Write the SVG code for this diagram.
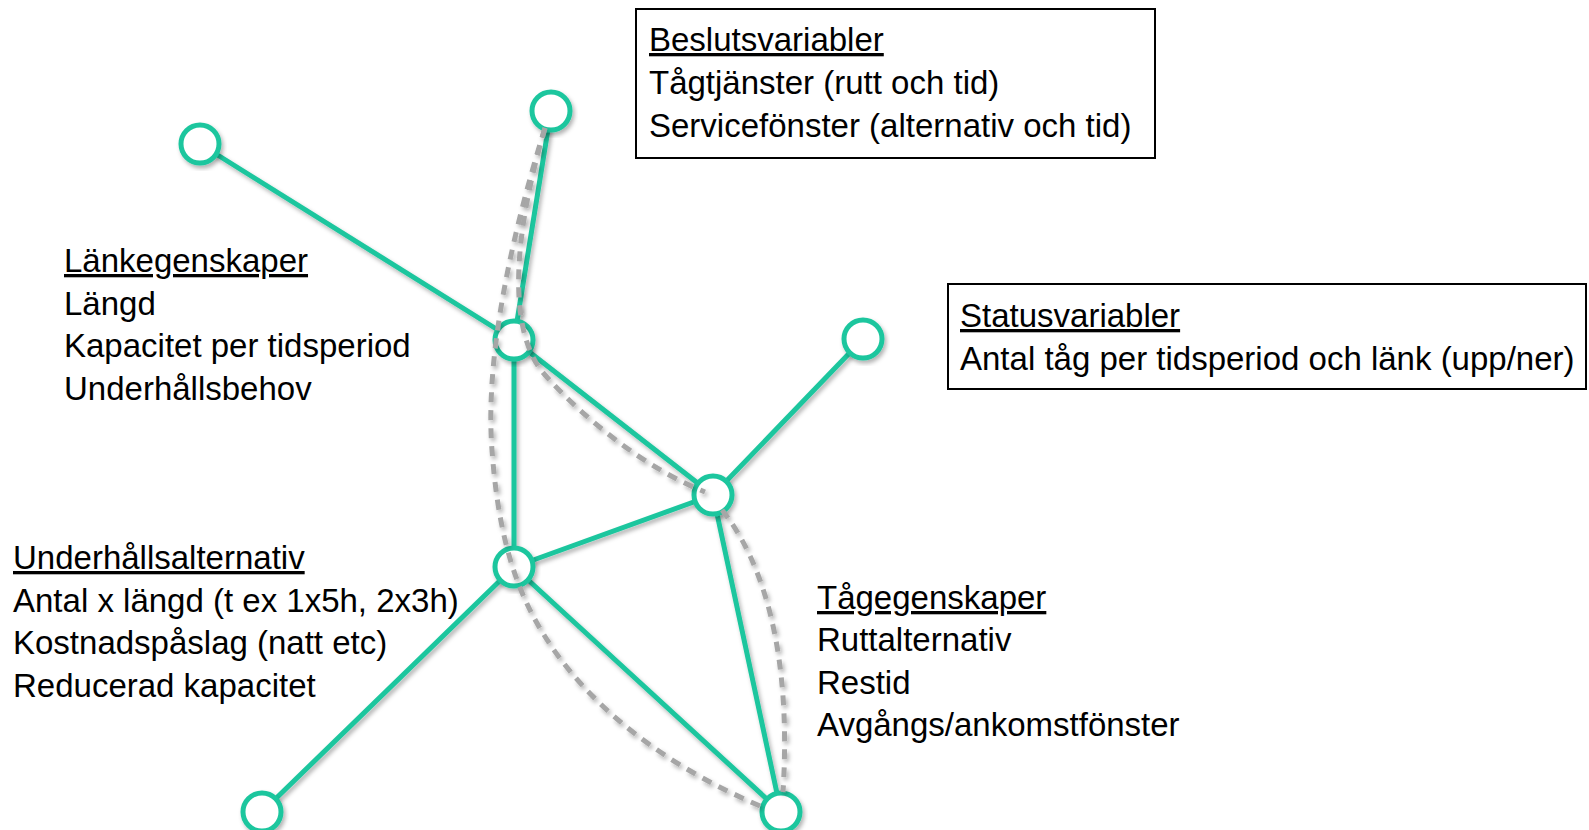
<svg xmlns="http://www.w3.org/2000/svg" width="1589" height="830" viewBox="0 0 1589 830">
<defs>
<filter id="sh" x="-20%" y="-20%" width="140%" height="140%">
<feDropShadow dx="2" dy="3" stdDeviation="2" flood-color="#000" flood-opacity="0.3"/>
</filter>
<style>
.e{stroke:#1DC69E;stroke-width:5;fill:none;stroke-linecap:round}
.n{stroke:#1DC69E;stroke-width:5;fill:#fff}
.d{stroke:#A6A6A6;stroke-width:5;fill:none;stroke-dasharray:10 8}
.t{font-family:"Liberation Sans",Arial,sans-serif;font-size:33px;fill:#000}
.u{text-decoration:underline}
.b{fill:#fff;stroke:#000;stroke-width:2}
</style>
</defs>
<rect width="1589" height="830" fill="#fff"/>
<g id="connectors" filter="url(#sh)">
<line class="e" x1="200" y1="144" x2="514" y2="340"/>
<line class="e" x1="551" y1="111" x2="514" y2="340"/>
<line class="e" x1="514" y1="340" x2="713" y2="495"/>
<line class="e" x1="514" y1="340" x2="514" y2="567"/>
<line class="e" x1="863" y1="339" x2="713" y2="495"/>
<line class="e" x1="713" y1="495" x2="514" y2="567"/>
<line class="e" x1="514" y1="567" x2="262" y2="812"/>
<line class="e" x1="514" y1="567" x2="781" y2="812"/>
<line class="e" x1="713" y1="495" x2="781" y2="812"/>
</g>
<g id="node1" filter="url(#sh)"><circle class="n" cx="200" cy="144" r="19"/></g>
<g id="node2" filter="url(#sh)"><circle class="n" cx="551" cy="111" r="19"/></g>
<g id="node3" filter="url(#sh)"><circle class="n" cx="514" cy="340" r="19"/></g>
<g id="node4" filter="url(#sh)"><circle class="n" cx="863" cy="339" r="19"/></g>
<g id="node5" filter="url(#sh)"><circle class="n" cx="713" cy="495" r="19"/></g>
<g id="node6" filter="url(#sh)"><circle class="n" cx="514" cy="567" r="19"/></g>
<g id="node7" filter="url(#sh)"><circle class="n" cx="262" cy="812" r="19"/></g>
<g id="node8" filter="url(#sh)"><circle class="n" cx="781" cy="812" r="19"/></g>
<g id="dashed" filter="url(#sh)">
<path class="d" d="M 545 128 C 510 240, 485 360, 492 450 C 497 520, 510 570, 530 610 C 570 690, 650 760, 765 808"/>
<path class="d" d="M 545 128 C 515 230, 505 330, 545 375 C 590 425, 650 470, 705 492"/>
<path class="d" d="M 722 510 C 762 560, 792 650, 783 792"/>
</g>
<g id="beslut">
<rect class="b" x="636" y="9" width="519" height="149"/>
<text class="t" x="649" y="51"><tspan class="u">Beslutsvariabler</tspan></text>
<text class="t" x="649" y="94">Tågtjänster (rutt och tid)</text>
<text class="t" x="649" y="137">Servicefönster (alternativ och tid)</text>
</g>
<g id="status">
<rect class="b" x="948" y="284" width="638" height="105"/>
<text class="t" x="960" y="327"><tspan class="u">Statusvariabler</tspan></text>
<text class="t" x="960" y="370">Antal tåg per tidsperiod och länk (upp/ner)</text>
</g>
<g id="lank">
<text class="t" x="64" y="272"><tspan class="u">Länkegenskaper</tspan></text>
<text class="t" x="64" y="315">Längd</text>
<text class="t" x="64" y="357">Kapacitet per tidsperiod</text>
<text class="t" x="64" y="400">Underhållsbehov</text>
</g>
<g id="underhall">
<text class="t" x="13" y="569"><tspan class="u">Underhållsalternativ</tspan></text>
<text class="t" x="13" y="612">Antal x längd (t ex 1x5h, 2x3h)</text>
<text class="t" x="13" y="654">Kostnadspåslag (natt etc)</text>
<text class="t" x="13" y="697">Reducerad kapacitet</text>
</g>
<g id="tag">
<text class="t" x="817" y="609"><tspan class="u">Tågegenskaper</tspan></text>
<text class="t" x="817" y="651">Ruttalternativ</text>
<text class="t" x="817" y="694">Restid</text>
<text class="t" x="817" y="736">Avgångs/ankomstfönster</text>
</g>
</svg>
